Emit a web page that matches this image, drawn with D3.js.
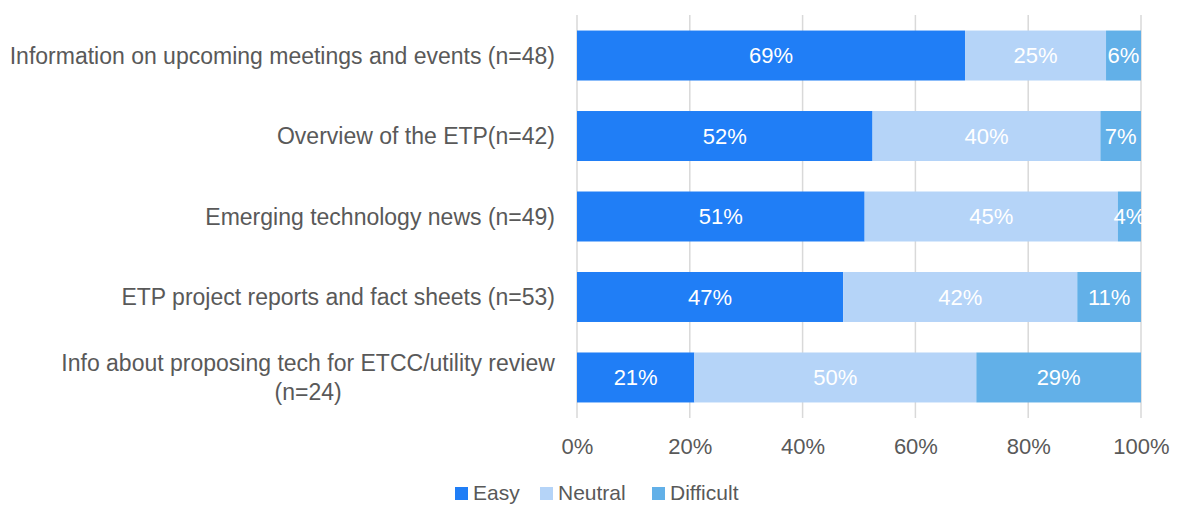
<!DOCTYPE html>
<html>
<head>
<meta charset="utf-8">
<script src="https://cdn.jsdelivr.net/npm/d3@7"></script>
<style>
  body { margin: 0; background: #fff; }
  text { font-family: "Liberation Sans", Arial, sans-serif; }
</style>
</head>
<body>
<div id="chart"></div>
<script>
// Chart data (percent of respondents)
const categories = [
    ["Information on upcoming meetings and events (n=48)"],
    ["Overview of the ETP(n=42)"],
    ["Emerging technology news (n=49)"],
    ["ETP project reports and fact sheets (n=53)"],
    ["Info about proposing tech for ETCC/utility review", "(n=24)"]
];
const seriesNames = ["Easy", "Neutral", "Difficult"];
const easy = [68.8, 52.4, 51.0, 47.2, 20.8];
const neutral = [25.0, 40.4, 44.9, 41.5, 50.0];
const difficult = [6.2, 7.2, 4.1, 11.3, 29.2];
const xTicks = [0, 20, 40, 60, 80, 100];

const colors = ["#207ef6", "#b5d4f8", "#62b0e8"];

const width = 1177;
const height = 508;
const margin = { top: 15, right: 36, bottom: 90, left: 577 };
const plotBottom = height - margin.bottom;
const labelRight = 555;
const fontSize = "22px";

const svg = d3.select("#chart")
    .append("svg")
    .attr("width", width)
    .attr("height", height);

// Build rows for stacking
const rows = categories.map((c, i) => ({
    idx: i, label: c, Easy: easy[i], Neutral: neutral[i], Difficult: difficult[i]
}));
const stacked = d3.stack().keys(seriesNames)(rows);

const x = d3.scaleLinear()
    .domain([0, 100])
    .range([margin.left, width - margin.right]);

const y = d3.scaleBand()
    .domain(d3.range(categories.length))
    .range([margin.top, plotBottom])
    .paddingInner(0.379)
    .paddingOuter(0.193);

// Vertical gridlines
svg.append("g")
    .selectAll("line")
    .data(xTicks)
    .join("line")
        .attr("x1", d => x(d))
        .attr("x2", d => x(d))
        .attr("y1", margin.top)
        .attr("y2", plotBottom)
        .attr("stroke", "#d9d9d9")
        .attr("stroke-width", 1.5);

// Bars
const layer = svg.append("g")
    .selectAll("g")
    .data(stacked)
    .join("g")
        .attr("fill", (d, i) => colors[i]);

layer.selectAll("rect")
    .data(d => d)
    .join("rect")
        .attr("x", d => x(d[0]))
        .attr("y", d => y(d.data.idx))
        .attr("width", d => x(d[1]) - x(d[0]))
        .attr("height", y.bandwidth());

// Value labels
layer.selectAll("text")
    .data(d => d)
    .join("text")
        .attr("x", d => (x(d[0]) + x(d[1])) / 2)
        .attr("y", d => y(d.data.idx) + y.bandwidth() / 2)
        .attr("dy", "0.35em")
        .attr("text-anchor", "middle")
        .attr("fill", "#fff")
        .attr("font-size", fontSize)
        .text(d => Math.round(d[1] - d[0]) + "%");

// Category labels: block is right-aligned, lines centred within block
const catG = svg.append("g")
    .selectAll("text")
    .data(rows)
    .join("text")
        .attr("text-anchor", "middle")
        .attr("fill", "#595959")
        .attr("font-size", "23px");

catG.each(function(d) {
    const t = d3.select(this);
    const n = d.label.length;
    d.label.forEach((line, k) => {
        t.append("tspan")
            .attr("x", labelRight)
            .attr("y", y(d.idx) + y.bandwidth() / 2)
            .attr("dy", (0.35 + (k - (n - 1) / 2) * 1.3) + "em")
            .text(line);
    });
    const box = this.getBBox();
    t.selectAll("tspan").attr("x", labelRight - box.width / 2);
});

// X axis tick labels
svg.append("g")
    .attr("transform", `translate(0,${plotBottom})`)
    .call(d3.axisBottom(x).tickValues(xTicks).tickFormat(d => d + "%").tickSize(0).tickPadding(20))
    .call(g => g.select(".domain").remove())
    .call(g => g.selectAll("text")
        .attr("fill", "#595959")
        .attr("font-size", fontSize)
        .attr("font-family", "Liberation Sans, Arial, sans-serif"));

// Legend
const legendX = [455, 540, 652];
const legend = svg.append("g")
    .selectAll("g")
    .data(seriesNames)
    .join("g")
        .attr("transform", (d, i) => `translate(${legendX[i]},493)`);

legend.append("rect")
    .attr("x", 0)
    .attr("y", -6)
    .attr("width", 13)
    .attr("height", 13)
    .attr("fill", (d, i) => colors[i]);

legend.append("text")
    .attr("x", 18)
    .attr("dy", "0.35em")
    .attr("fill", "#595959")
    .attr("font-size", "21px")
    .text(d => d);
</script>
</body>
</html>
